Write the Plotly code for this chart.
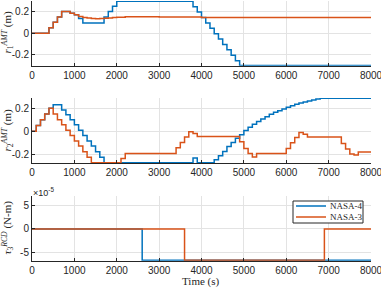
import plotly.graph_objects as go
from plotly.subplots import make_subplots

BLUE = "#0072BD"
ORANGE = "#D95319"

# panel 1: r1 AMT (m), step change times and values
r1_nasa4_t = [0, 400, 500, 600, 700, 900, 1000, 1100, 1200, 1700, 1800, 1900, 2000,
              3800, 3900, 4000, 4100, 4200, 4300, 4400, 4500, 4600, 4700, 4800, 4900, 8000]
r1_nasa4_v = [0, 0.05, 0.1, 0.15, 0.2, 0.185, 0.17, 0.135, 0.095, 0.15, 0.2, 0.25, 0.295,
              0.245, 0.195, 0.145, 0.095, 0.045, -0.005, -0.055, -0.105, -0.155, -0.205, -0.255, -0.3, -0.3]
r1_nasa3_t = [0, 400, 500, 600, 700, 900, 1000, 1100, 1200, 1300, 1400, 1500, 1600, 1700,
              1800, 1900, 2000, 2200, 2500, 3000, 4000, 5000, 6000, 8000]
r1_nasa3_v = [0, 0.05, 0.1, 0.15, 0.2, 0.185, 0.17, 0.155, 0.146, 0.14, 0.136, 0.134, 0.135, 0.137,
              0.14, 0.144, 0.148, 0.152, 0.153, 0.15, 0.146, 0.144, 0.144, 0.144]

# panel 2: r2 AMT (m)
r2_nasa4_t = [0, 100, 200, 300, 400, 500, 700, 800, 900, 1000, 1100, 1200, 1300, 1400, 1500,
              1600, 1700, 3800, 3900, 4300, 4400, 4500, 4600, 4700, 4800, 4900, 5000, 5100,
              5200, 5300, 5400, 5500, 5600, 5700, 5800, 5900, 6000, 6100, 6200, 6300, 6400,
              6500, 6600, 6700, 6800, 8000]
r2_nasa4_v = [0, 0.05, 0.1, 0.15, 0.2, 0.23, 0.186, 0.143, 0.1, 0.057, 0.009, -0.037, -0.086,
              -0.129, -0.18, -0.229, -0.277, -0.235, -0.277, -0.25, -0.215, -0.177, -0.134,
              -0.099, -0.061, -0.032, 0.005, 0.035, 0.061, 0.084, 0.107, 0.127, 0.148, 0.165,
              0.179, 0.194, 0.209, 0.223, 0.235, 0.246, 0.255, 0.263, 0.272, 0.281, 0.288, 0.288]
r2_nasa3_t = [0, 100, 200, 300, 400, 500, 600, 700, 800, 900, 1000, 1100, 1200, 1300, 1400,
              2100, 2200, 3400, 3500, 3600, 3700, 3800, 3900, 4900, 5000, 5100, 5200, 5300,
              6000, 6100, 6200, 6300, 6400, 6500, 7300, 7400, 7500, 7600, 7700, 8000]
r2_nasa3_v = [0, 0.05, 0.1, 0.15, 0.2, 0.151, 0.1, 0.057, 0.009, -0.037, -0.086, -0.129, -0.18,
              -0.229, -0.277, -0.238, -0.195, -0.145, -0.099, -0.05, -0.006, -0.02, -0.047,
              -0.093, -0.151, -0.195, -0.226, -0.195, -0.151, -0.102, -0.055, -0.012, -0.026,
              -0.052, -0.108, -0.157, -0.2, -0.209, -0.183, -0.183]

# panel 3: tau3 RCD (N-m)
tau3_nasa4_t = [0, 2600, 8000]
tau3_nasa4_v = [0, -6.6e-5, -6.6e-5]
tau3_nasa3_t = [0, 3600, 6900, 8000]
tau3_nasa3_v = [0, -6.6e-5, 0, 0]

series_names = ["NASA-4", "NASA-3"]
x_ticks = [0, 1000, 2000, 3000, 4000, 5000, 6000, 7000, 8000]

fig = make_subplots(rows=3, cols=1)

panels = [
    (r1_nasa4_t, r1_nasa4_v, r1_nasa3_t, r1_nasa3_v),
    (r2_nasa4_t, r2_nasa4_v, r2_nasa3_t, r2_nasa3_v),
    (tau3_nasa4_t, tau3_nasa4_v, tau3_nasa3_t, tau3_nasa3_v),
]
for i, (t4, v4, t3, v3) in enumerate(panels, start=1):
    fig.add_trace(go.Scatter(x=t4, y=v4, mode="lines", line_shape="hv",
                             line=dict(color=BLUE, width=1.5), name=series_names[0],
                             showlegend=False), row=i, col=1)
    fig.add_trace(go.Scatter(x=t3, y=v3, mode="lines", line_shape="hv",
                             line=dict(color=ORANGE, width=1.5), name=series_names[1],
                             showlegend=False), row=i, col=1)

W, H = 381, 288
tick_font = dict(family="Liberation Sans, Arial", size=10, color="#262626")
serif = "Liberation Serif, Times New Roman, serif"


def px(x):
    return x / W


def py(y):
    return (H - y) / H


axis_common = dict(
    showline=True, linecolor="#262626", linewidth=1,
    showgrid=True, gridcolor="#e3e3e3", gridwidth=1,
    ticks="inside", ticklen=3, tickcolor="#262626",
    zeroline=False, tickfont=tick_font, automargin=False,
    ticklabeloverflow="allow",
)

domains = [(1, 65.7), (98, 163.3), (196, 260.7)]
yranges = [[-0.302, 0.298], [-0.281, 0.29], [-6.67e-5, 6.9e-5]]
for i in range(3):
    top, bot = domains[i]
    fig.update_xaxes(axis_common, row=i + 1, col=1,
                     domain=[px(32), px(371)], range=[0, 8000],
                     tickvals=x_ticks, ticktext=[str(v) for v in x_ticks])
    if i < 2:
        yt = dict(tickvals=[-0.2, 0, 0.2], ticktext=["-0.2", "0", "0.2"])
    else:
        yt = dict(tickvals=[-5e-5, 0, 5e-5], ticktext=["-5", "0", "5"])
    fig.update_yaxes(axis_common, row=i + 1, col=1,
                     domain=[py(bot), py(top)], range=yranges[i], **yt)

ylabels = [
    ("<i>r</i><sub>1</sub><sup><i>AMT</i></sup> (m)", 33),
    ("<i>r</i><sub>2</sub><sup><i>AMT</i></sup> (m)", 131),
    ("<i>τ</i><sub>3</sub><sup><i>RCD</i></sup> (N-m)", 228),
]
annotations = []
for text, yc in ylabels:
    annotations.append(dict(text=text, x=px(7.5), y=py(yc), xref="paper", yref="paper",
                            textangle=-90, showarrow=False, xanchor="center", yanchor="middle",
                            font=dict(family=serif, size=11, color="#262626")))
annotations.append(dict(text="×10<sup>-5</sup>", x=px(31), y=py(192), xref="paper", yref="paper",
                        showarrow=False, xanchor="left", yanchor="middle",
                        font=dict(family="Liberation Sans, Arial", size=9, color="#262626")))
annotations.append(dict(text="Time (s)", x=px(201), y=py(281), xref="paper", yref="paper",
                        showarrow=False, xanchor="center", yanchor="middle",
                        font=dict(family=serif, size=11, color="#262626")))

# legend box drawn by hand (compact, MATLAB-like)
shapes = [dict(type="rect", xref="paper", yref="paper", x0=px(293), x1=px(363),
               y0=py(223), y1=py(201), line=dict(color="#262626", width=1),
               fillcolor="white", layer="above")]
for name, color, ly in zip(series_names, [BLUE, ORANGE], [206, 217]):
    shapes.append(dict(type="line", xref="paper", yref="paper", x0=px(296), x1=px(326),
                       y0=py(ly), y1=py(ly), line=dict(color=color, width=1.5), layer="above"))
    annotations.append(dict(text=name, x=px(328), y=py(ly), xref="paper", yref="paper",
                            showarrow=False, xanchor="left", yanchor="middle",
                            font=dict(family=serif, size=9, color="#262626")))

fig.update_layout(
    width=W, height=H,
    margin=dict(l=0, r=0, t=0, b=0),
    paper_bgcolor="white", plot_bgcolor="white",
    annotations=annotations,
    shapes=shapes,
    showlegend=False,
)

fig.write_html("out.html", config={"displayModeBar": False},
               post_script="document.body.style.margin='0';")
